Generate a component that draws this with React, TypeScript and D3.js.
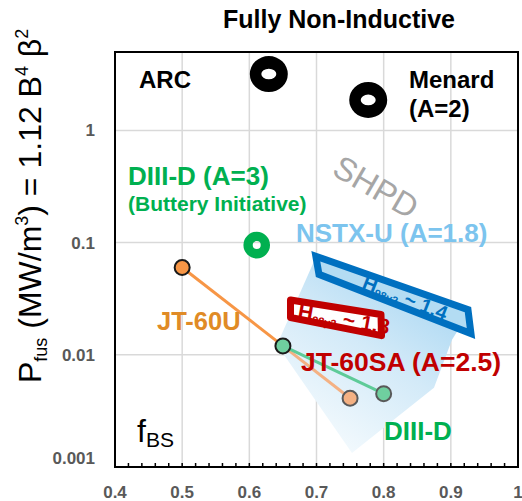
import React from "react";
import * as d3 from "d3";

// ---- data ----
const xTicks = [0.4, 0.5, 0.6, 0.7, 0.8, 0.9, 1.0];
const xTickLabels = ["0.4", "0.5", "0.6", "0.7", "0.8", "0.9", "1"];
const yTicks = [0.001, 0.01, 0.1, 1];
const yTickLabels = ["0.001", "0.01", "0.1", "1"];

const jt60uX = [0.5, 0.65, 0.75];
const jt60uY = [0.06, 0.012, 0.0041];
const diiidX = [0.65, 0.8];
const diiidY = [0.012, 0.0045];

const reactorNames = ["ARC", "Menard"];
const reactorX = [0.629, 0.777];
const reactorY = [3.18, 1.87];

const diiidA3X = [0.611];
const diiidA3Y = [0.095];

const nstxBoxX = [0.699, 0.9255, 0.93, 0.7037];
const nstxBoxY = [0.0756, 0.0253, 0.01545, 0.0521];
const jt60saBoxX = [0.6613, 0.796, 0.7968, 0.6613];
const jt60saBoxY = [0.0308, 0.02289, 0.01482, 0.0215];
const shpdRegionX = [0.699, 0.9255, 0.9017, 0.8749, 0.7528, 0.6412];
const shpdRegionY = [0.0739, 0.02284, 0.01365, 0.00508, 0.00133, 0.0123];

const FONT = "'Liberation Sans', Arial, sans-serif";

function ellipsePath(cx: number, cy: number, rx: number, ry: number) {
  return `M${cx - rx},${cy}a${rx},${ry} 0 1,0 ${2 * rx},0a${rx},${ry} 0 1,0 ${-2 * rx},0Z`;
}

export default function App() {
  const W = 522, H = 501;
  const left = 115, right = 518, top = 52, bottom = 467;
  const x = d3.scaleLinear().domain([0.4, 1.0]).range([left, right]);
  const y = d3.scaleLog().domain([0.001, 5]).range([bottom, top]);

  const poly = (xs: number[], ys: number[]) =>
    xs.map((v, i) => [x(v), y(ys[i])] as [number, number]);
  const polyStr = (pts: [number, number][]) => "M" + pts.map((p) => p.join(",")).join("L") + "Z";

  const nstx = poly(nstxBoxX, nstxBoxY);
  const jtsa = poly(jt60saBoxX, jt60saBoxY);
  const shpd = poly(shpdRegionX, shpdRegionY);

  const along = (a: [number, number], b: [number, number], t: number) => {
    const px = a[0] + (b[0] - a[0]) * t;
    const py = a[1] + (b[1] - a[1]) * t;
    const ang = (Math.atan2(b[1] - a[1], b[0] - a[0]) * 180) / Math.PI;
    return { px, py, ang };
  };
  const nstxTxt = along(nstx[3], nstx[2], 0.27);
  const jtsaTxt = along(jtsa[3], jtsa[2], 0.07);

  const minorTicks = d3.range(0.42, 1.0, 0.02);

  const jtLine = jt60uX.map((v, i) => [x(v), y(jt60uY[i])]);
  const dLine = diiidX.map((v, i) => [x(v), y(diiidY[i])]);

  const jtSegColors = ["#f79646", "#f4b183"];
  const jtPtFill = ["#f79646", "#6fcf9f", "#f4b183"];
  const dPtFill = ["#6fcf9f", "#6fcf9f"];

  return (
    <svg width={W} height={H} style={{ position: "absolute", left: 0, top: 0, background: "#fff" }} fontFamily={FONT}>
      <defs>
        <linearGradient id="shpdGrad" x1="0.85" y1="0" x2="0.2" y2="1">
          <stop offset="0" stopColor="#9fd2f1" />
          <stop offset="0.5" stopColor="#d3eaf8" />
          <stop offset="1" stopColor="#f8fcfe" />
        </linearGradient>
      </defs>
      <rect x={0} y={0} width={W} height={H} fill="#fff" />

      {/* title */}
      <text x={339} y={28} fontSize={25} fontWeight="bold" textAnchor="middle" fill="#000">
        Fully Non-Inductive
      </text>

      {/* gridlines */}
      {xTicks.slice(1, -1).map((v) => (
        <line key={"gx" + v} x1={x(v)} x2={x(v)} y1={top} y2={bottom} stroke="#d9d9d9" strokeWidth={1.5} />
      ))}
      {yTicks.slice(1).map((v) => (
        <line key={"gy" + v} x1={left} x2={right} y1={y(v)} y2={y(v)} stroke="#d9d9d9" strokeWidth={1.5} />
      ))}

      {/* SHPD region */}
      <path d={polyStr(shpd)} fill="url(#shpdGrad)" />

      {/* NSTX-U box */}
      <path d={polyStr(nstx)} fill="#b3dcf3" />
      <text
        transform={`translate(${nstxTxt.px},${nstxTxt.py}) rotate(${nstxTxt.ang})`}
        y={-2.5}
        fontSize={20}
        fontWeight="bold"
        fill="#0070c0"
      >
        H<tspan fontSize={11} dy={3}>98y2</tspan>
        <tspan dy={-3}> ~ 1.4</tspan>
      </text>
      <path d={polyStr(nstx)} fill="none" stroke="#0070c0" strokeWidth={7} strokeLinejoin="miter" />

      {/* JT-60SA box */}
      <path d={polyStr(jtsa)} fill="#ffffff" />
      <text
        transform={`translate(${jtsaTxt.px},${jtsaTxt.py}) rotate(${jtsaTxt.ang - 1})`}
        y={-1}
        fontSize={21}
        fontWeight="bold"
        fill="#c00000"
      >
        H<tspan fontSize={11} dy={3}>98y2</tspan>
        <tspan dy={-3}> ~ 1.8</tspan>
      </text>
      <path d={polyStr(jtsa)} fill="none" stroke="#c00000" strokeWidth={7} strokeLinejoin="round" />

      {/* JT-60U line */}
      {jtLine.slice(1).map((p, i) => (
        <line
          key={"jl" + i}
          x1={jtLine[i][0]}
          y1={jtLine[i][1]}
          x2={p[0]}
          y2={p[1]}
          stroke={jtSegColors[i]}
          strokeWidth={3}
        />
      ))}
      {/* DIII-D line */}
      {dLine.slice(1).map((p, i) => (
        <line key={"dl" + i} x1={dLine[i][0]} y1={dLine[i][1]} x2={p[0]} y2={p[1]} stroke="#5ecb98" strokeWidth={3} />
      ))}
      {jtLine.map((p, i) =>
        i === 1 ? null : (
          <circle
            key={"jp" + i}
            cx={p[0]}
            cy={p[1]}
            r={7.5}
            fill={jtPtFill[i]}
            stroke={i === 0 ? "#1a1a1a" : "#595959"}
            strokeWidth={2}
          />
        )
      )}
      {dLine.map((p, i) => (
        <circle
          key={"dp" + i}
          cx={p[0]}
          cy={p[1]}
          r={7.5}
          fill={dPtFill[i]}
          stroke={i === 0 ? "#1a1a1a" : "#595959"}
          strokeWidth={2}
        />
      ))}

      {/* reactor donuts */}
      {reactorNames.map((n, i) => {
        const cx = x(reactorX[i]);
        const cy = y(reactorY[i]);
        return (
          <path
            key={n}
            d={ellipsePath(cx, cy, 19, 18) + ellipsePath(cx, cy, 7.5, 5.3)}
            fill="#000"
            fillRule="evenodd"
          />
        );
      })}
      {diiidA3X.map((v, i) => {
        const cx = x(v);
        const cy = y(diiidA3Y[i]);
        return (
          <path
            key={"g" + i}
            d={ellipsePath(cx, cy, 13.3, 13.3) + ellipsePath(cx, cy, 4, 4)}
            fill="#00b050"
            fillRule="evenodd"
          />
        );
      })}

      {/* frame */}
      <rect x={left} y={top} width={right - left} height={bottom - top} fill="none" stroke="#000" strokeWidth={2} />
      {minorTicks.map((v) => (
        <line key={"mt" + v} x1={x(v)} x2={x(v)} y1={bottom} y2={bottom - 4} stroke="#000" strokeWidth={1.5} />
      ))}

      {/* tick labels */}
      {xTicks.map((v, i) => (
        <text key={"xl" + v} x={x(v)} y={498} fontSize={17} fontWeight="bold" fill="#595959" textAnchor="middle">
          {xTickLabels[i]}
        </text>
      ))}
      {yTicks.map((v, i) => (
        <text
          key={"yl" + v}
          x={95}
          y={Math.min(y(v) + 6, bottom - 3)}
          fontSize={17}
          fontWeight="bold"
          fill="#595959"
          textAnchor="end"
        >
          {yTickLabels[i]}
        </text>
      ))}

      {/* y-axis title */}
      <text transform="translate(41,383) rotate(-90)" fontSize={32} fill="#000">
        P<tspan fontSize={18} dy={6}>fus</tspan>
        <tspan dy={-6}> (MW/m</tspan>
        <tspan fontSize={18} dy={-13}>3</tspan>
        <tspan dy={13}>) = 1.12 B</tspan>
        <tspan fontSize={18} dy={-13}>4</tspan>
        <tspan dy={13}> β</tspan>
        <tspan fontSize={18} dy={-13}>2</tspan>
      </text>

      {/* annotations */}
      <text x={139} y={88} fontSize={24} fontWeight="bold" fill="#000">ARC</text>
      <text x={409} y={88} fontSize={24} fontWeight="bold" fill="#000">Menard</text>
      <text x={409} y={117} fontSize={24} fontWeight="bold" fill="#000">(A=2)</text>
      <text x={128} y={185} fontSize={26} fontWeight="bold" fill="#00b050">DIII-D (A=3)</text>
      <text x={128} y={211} fontSize={21} fontWeight="bold" fill="#00b050">(Buttery Initiative)</text>
      <text x={296} y={242} fontSize={26} fontWeight="bold" fill="#7cc4ee">NSTX-U (A=1.8)</text>
      <text x={157} y={330} fontSize={25.5} fontWeight="bold" fill="#e08b26">JT-60U</text>
      <text x={301} y={371} fontSize={26.5} fontWeight="bold" fill="#c00000">JT-60SA (A=2.5)</text>
      <text x={384} y={440} fontSize={26} fontWeight="bold" fill="#00b050">DIII-D</text>
      <text transform="translate(376,187) rotate(30)" fontSize={33} fill="#a6a6a6" textAnchor="middle" dominantBaseline="central">
        SHPD
      </text>
      <text x={137} y={442} fontSize={32} fill="#000">
        f<tspan fontSize={21} dy={5}>BS</tspan>
      </text>
    </svg>
  );
}
